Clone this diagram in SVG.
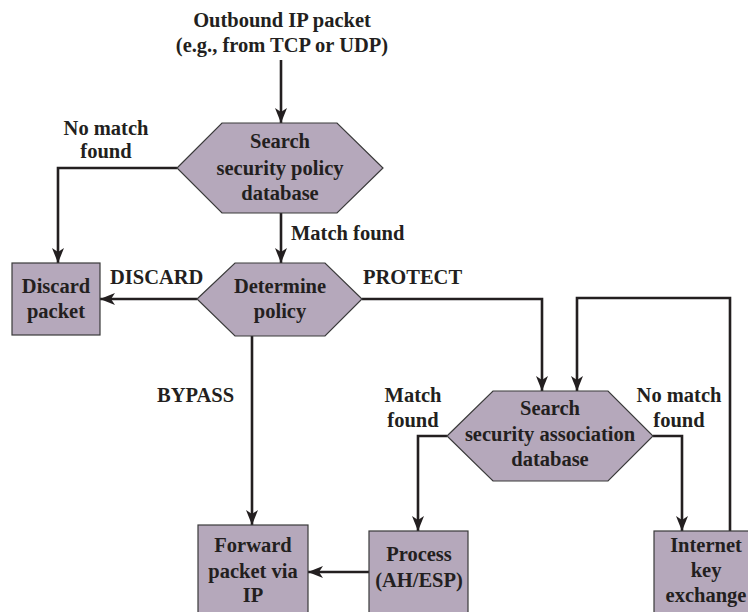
<svg xmlns="http://www.w3.org/2000/svg" width="748" height="612" viewBox="0 0 748 612">
<defs>
<style>
.t{font-family:"Liberation Serif","Times New Roman",serif;font-weight:bold;font-size:20.5px;fill:#231F20}
.c{text-anchor:middle}
.n{fill:#B5A8BB;stroke:#3A3A3A;stroke-width:1.2}
.e{fill:none;stroke:#231F20;stroke-width:2.6}
</style>
<marker id="ah" markerUnits="userSpaceOnUse" markerWidth="16" markerHeight="14" viewBox="0 0 16 14" refX="15" refY="7" orient="auto">
<path d="M0,1 L15,7 L0,13 L4,7 Z" fill="#231F20"/>
</marker>
</defs>
<rect width="748" height="612" fill="#fff"/>
<g id="connectors">
<path class="e" d="M281,60 V123" marker-end="url(#ah)"/>
<path class="e" d="M177,168 H58 V263" marker-end="url(#ah)"/>
<path class="e" d="M281,213 V263" marker-end="url(#ah)"/>
<path class="e" d="M197,299 H100" marker-end="url(#ah)"/>
<path class="e" d="M362,299 H542 V391" marker-end="url(#ah)"/>
<path class="e" d="M252,336 V525" marker-end="url(#ah)"/>
<path class="e" d="M447,436 H418 V531" marker-end="url(#ah)"/>
<path class="e" d="M653,436 H682 V531" marker-end="url(#ah)"/>
<path class="e" d="M730,531 V298 H577 V391" marker-end="url(#ah)"/>
<path class="e" d="M369,572 H308" marker-end="url(#ah)"/>
</g>
<g id="labels">
<text class="t c" x="282" y="27">Outbound IP packet</text>
<text class="t c" x="282" y="52">(e.g., from TCP or UDP)</text>
<text class="t c" x="106" y="135">No match</text>
<text class="t c" x="106" y="158">found</text>
<text class="t" x="291" y="240">Match found</text>
<text class="t" x="110" y="284">DISCARD</text>
<text class="t" x="363" y="284">PROTECT</text>
<text class="t" x="157" y="402">BYPASS</text>
<text class="t c" x="413" y="402">Match</text>
<text class="t c" x="413" y="427">found</text>
<text class="t c" x="679" y="402">No match</text>
<text class="t c" x="679" y="427">found</text>
</g>
<g id="spd">
<polygon class="n" points="177,168 222,123 337,123 383,168 337,213 222,213"/>
<text class="t c" x="280" y="148">Search</text>
<text class="t c" x="280" y="175">security policy</text>
<text class="t c" x="280" y="200">database</text>
</g>
<g id="policy">
<polygon class="n" points="197,299 235,263 325,263 362,299 325,336 235,336"/>
<text class="t c" x="280" y="293">Determine</text>
<text class="t c" x="280" y="318">policy</text>
</g>
<g id="discard">
<rect class="n" x="12" y="263" width="88" height="72"/>
<text class="t c" x="56" y="293">Discard</text>
<text class="t c" x="56" y="318">packet</text>
</g>
<g id="sad">
<polygon class="n" points="447,436 493,391 608,391 653,436 608,481 493,481"/>
<text class="t c" x="550" y="415">Search</text>
<text class="t c" x="550" y="441">security association</text>
<text class="t c" x="550" y="466">database</text>
</g>
<g id="forward">
<rect class="n" x="198" y="525" width="110" height="100"/>
<text class="t c" x="253" y="552">Forward</text>
<text class="t c" x="253" y="578">packet via</text>
<text class="t c" x="253" y="602">IP</text>
</g>
<g id="process">
<rect class="n" x="369" y="531" width="99" height="100"/>
<text class="t c" x="419" y="561">Process</text>
<text class="t c" x="419" y="587">(AH/ESP)</text>
</g>
<g id="ike">
<rect class="n" x="654" y="531" width="104" height="100"/>
<text class="t c" x="706" y="552">Internet</text>
<text class="t c" x="706" y="577">key</text>
<text class="t c" x="706" y="602">exchange</text>
</g>
</svg>
